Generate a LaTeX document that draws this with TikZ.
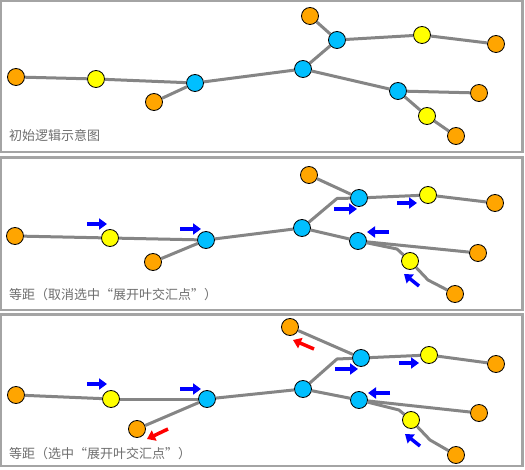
\documentclass[tikz,border=0pt]{standalone}
\usepackage{fontspec}
\setmainfont{Noto Sans CJK SC}
\usetikzlibrary{arrows.meta}
\definecolor{orangeN}{HTML}{FFA500}
\definecolor{yellowN}{HTML}{FFFF00}
\definecolor{cyanN}{HTML}{00BFFF}
\definecolor{edgeG}{HTML}{858585}
\definecolor{frameG}{HTML}{A4A4A4}
\definecolor{textG}{HTML}{6E6E6E}
\tikzset{
  nd/.style={circle, draw=black, line width=0.8pt, minimum size=17pt, inner sep=0pt},
  on/.style={nd, fill=orangeN},
  yn/.style={nd, fill=yellowN},
  cn/.style={nd, fill=cyanN},
  ed/.style={draw=edgeG, line width=3pt, line join=round},
  frame/.style={draw=frameG, line width=2.5pt},
  lbl/.style={anchor=west, text=textG, font=\fontsize{13}{15}\selectfont, inner sep=0pt},
  barrow/.style={draw=blue, line width=3.5pt, -{Triangle[length=8pt,width=11pt]}},
  rarrow/.style={draw=red, line width=3.5pt, -{Triangle[length=8pt,width=11pt]}}
}
\begin{document}
\begin{tikzpicture}[x=1pt,y=-1pt]
\useasboundingbox[fill=white] (0,0) rectangle (525,470);
% frames
\draw[frame] (1.2,1.2) rectangle (522.5,152);
\draw[frame] (1.2,157.5) rectangle (522.5,310);
\draw[frame] (1.2,314.7) rectangle (522.5,466);

% ---------- Panel 1 ----------
\node[on] (a1) at (16,77) {};
\node[yn] (ay1) at (96,79) {};
\node[cn] (ac1) at (195,83) {};
\node[on] (a2) at (154,102) {};
\node[cn] (ac2) at (303,69) {};
\node[cn] (ac3) at (337,40) {};
\node[on] (a3) at (310,16) {};
\node[yn] (ay2) at (422,35) {};
\node[on] (a4) at (496,44) {};
\node[cn] (ac4) at (398,91) {};
\node[on] (a5) at (479,93) {};
\node[yn] (ay3) at (427,116) {};
\node[on] (a6) at (456,136) {};
\draw[ed] (a1) -- (ay1);
\draw[ed] (ay1) -- (ac1);
\draw[ed] (a2) -- (ac1);
\draw[ed] (ac1) -- (ac2);
\draw[ed] (ac2) -- (ac3);
\draw[ed] (ac3) -- (a3);
\draw[ed] (ac3) -- (ay2);
\draw[ed] (ay2) -- (a4);
\draw[ed] (ac2) -- (ac4);
\draw[ed] (ac4) -- (a5);
\draw[ed] (ac4) -- (ay3);
\draw[ed] (ay3) -- (a6);
\node[lbl] (la) at (9,136) {初始逻辑示意图};

% ---------- Panel 2 ----------
\node[on] (b1) at (15,236) {};
\node[yn] (by1) at (110,238) {};
\node[cn] (bc1) at (206,240) {};
\node[on] (b2) at (153,262) {};
\node[cn] (bc2) at (302,228) {};
\node[cn] (bc3) at (359,198) {};
\node[on] (b3) at (309,175) {};
\node[yn] (by2) at (428,195) {};
\node[on] (b4) at (495,203) {};
\node[cn] (bc4) at (358,241) {};
\node[on] (b5) at (478,253) {};
\node[yn] (by3) at (410,261) {};
\node[on] (b6) at (455,294) {};
\coordinate (bk1) at (337,198.5);
\coordinate (bk2) at (397,249);
\coordinate (bk3) at (428,280);
\draw[ed] (b1) -- (by1);
\draw[ed] (by1) -- (bc1);
\draw[ed] (b2) -- (bc1);
\draw[ed] (bc1) -- (bc2);
\draw[ed] (bc2) -- (bk1) -- (bc3);
\draw[ed] (bc3) -- (b3);
\draw[ed] (bc3) -- (by2);
\draw[ed] (by2) -- (b4);
\draw[ed] (bc2) -- (bc4);
\draw[ed] (bc4) -- (b5);
\draw[ed] (bc4) -- (bk2) -- (by3);
\draw[ed] (by3) -- (bk3) -- (b6);
\draw[barrow] (87,224) -- (107,224);
\draw[barrow] (180,229) -- (201,229);
\draw[barrow] (334,209) -- (357,209);
\draw[barrow] (397,203) -- (417,203);
\draw[barrow] (389,232) -- (367,232);
\draw[barrow] (419,286) -- (404,274);
\node[lbl] (lb) at (9,295) {等距（取消选中“展开叶交汇点”）};

% ---------- Panel 3 ----------
\node[on] (c1) at (16,395) {};
\node[yn] (cy1) at (111,399) {};
\node[cn] (cc1) at (207,399) {};
\node[on] (c2) at (137,429) {};
\node[cn] (cc2) at (303,389) {};
\node[cn] (cc3) at (361,358) {};
\node[on] (c3) at (290,327) {};
\node[yn] (cy2) at (429,355) {};
\node[on] (c4) at (496,364) {};
\node[cn] (cc4) at (359,400) {};
\node[on] (c5) at (479,413) {};
\node[yn] (cy3) at (411,420) {};
\node[on] (c6) at (456,455) {};
\coordinate (ck1) at (337,359);
\coordinate (ck2) at (399,410);
\coordinate (ck3) at (430,440);
\draw[ed] (c1) -- (cy1);
\draw[ed] (cy1) -- (cc1);
\draw[ed] (c2) -- (cc1);
\draw[ed] (cc1) -- (cc2);
\draw[ed] (cc2) -- (ck1) -- (cc3);
\draw[ed] (cc3) -- (c3);
\draw[ed] (cc3) -- (cy2);
\draw[ed] (cy2) -- (c4);
\draw[ed] (cc2) -- (cc4);
\draw[ed] (cc4) -- (c5);
\draw[ed] (cc4) -- (ck2) -- (cy3);
\draw[ed] (cy3) -- (ck3) -- (c6);
\draw[barrow] (87,384) -- (107,384);
\draw[barrow] (180,389) -- (201,389);
\draw[barrow] (335,369) -- (358,369);
\draw[barrow] (399,363) -- (419,363);
\draw[barrow] (390,393) -- (368,393);
\draw[barrow] (420,446) -- (405,434);
\draw[rarrow] (168,429) -- (147,439);
\draw[rarrow] (314,349) -- (293,340);
\node[lbl] (lc) at (9,454) {等距（选中“展开叶交汇点”）};
\end{tikzpicture}
\end{document}
